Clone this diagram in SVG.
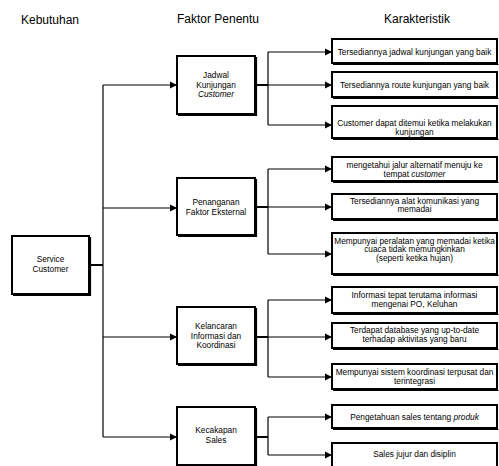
<svg xmlns="http://www.w3.org/2000/svg" width="499" height="466" viewBox="0 0 499 466">
<style>
  .hdr { font-family: "Liberation Sans", Arial, sans-serif; font-size: 12px; fill: #000; text-anchor: middle; }
  .t { font-family: "Liberation Sans", Arial, sans-serif; font-size: 8.3px; fill: #000; text-anchor: middle; }
  .box { fill: #fff; stroke: #000; stroke-width: 2; }
  .sh { fill: none; stroke: #000; stroke-width: 1.2; }
  .c { fill: none; stroke: #000; stroke-width: 1.2; }
  .ct { fill: none; stroke: #000; stroke-width: 2; }
  .i { font-style: italic; }
</style>
<defs>
  <marker id="ah" markerUnits="userSpaceOnUse" markerWidth="8" markerHeight="8" refX="7" refY="4" orient="auto">
    <path d="M0,0.5 L7,4 L0,7.5 Z" fill="#000"/>
  </marker>
</defs>
<rect width="499" height="466" fill="#fff"/>

<g id="headers">
  <text class="hdr" x="50" y="24">Kebutuhan</text>
  <text class="hdr" x="218" y="23">Faktor Penentu</text>
  <text class="hdr" x="417" y="23">Karakteristik</text>
</g>

<g id="connectors">
  <path class="ct" d="M89,265 H103"/>
  <path class="c" d="M103,85 V437"/>
  <path class="c" d="M103,85 H177" marker-end="url(#ah)"/>
  <path class="c" d="M103,208 H177" marker-end="url(#ah)"/>
  <path class="c" d="M103,337 H177" marker-end="url(#ah)"/>
  <path class="c" d="M103,437 H177" marker-end="url(#ah)"/>
  <path class="ct" d="M255,85 H268"/>
  <path class="c" d="M268,52 V125"/>
  <path class="c" d="M268,52 H332" marker-end="url(#ah)"/>
  <path class="c" d="M268,85 H332" marker-end="url(#ah)"/>
  <path class="c" d="M268,125 H332" marker-end="url(#ah)"/>
  <path class="ct" d="M255,207 H268"/>
  <path class="c" d="M268,169 V254"/>
  <path class="c" d="M268,169 H332" marker-end="url(#ah)"/>
  <path class="c" d="M268,207 H332" marker-end="url(#ah)"/>
  <path class="c" d="M268,254 H332" marker-end="url(#ah)"/>
  <path class="ct" d="M255,337 H268"/>
  <path class="c" d="M268,300 V377"/>
  <path class="c" d="M268,300 H332" marker-end="url(#ah)"/>
  <path class="c" d="M268,337 H332" marker-end="url(#ah)"/>
  <path class="c" d="M268,377 H332" marker-end="url(#ah)"/>
  <path class="ct" d="M255,437 H268"/>
  <path class="c" d="M268,417 V455"/>
  <path class="c" d="M268,417 H332" marker-end="url(#ah)"/>
  <path class="c" d="M268,455 H332" marker-end="url(#ah)"/>
</g>

<g id="service">
  <rect class="box" x="12" y="236" width="77" height="58"/>
  <path class="sh" d="M13,295.5 H90.5 V237"/>
  <text class="t" x="50.5" y="262">Service</text>
  <text class="t" x="50.5" y="271.5">Customer</text>
</g>

<g id="jadwal">
  <rect class="box" x="177" y="56" width="78" height="58"/>
  <path class="sh" d="M178,115.5 H256.5 V57"/>
  <text class="t" x="216" y="78">Jadwal</text>
  <text class="t" x="216" y="87.5">Kunjungan</text>
  <text class="t i" x="216" y="97">Customer</text>
</g>

<g id="penanganan">
  <rect class="box" x="177" y="178" width="78" height="57"/>
  <path class="sh" d="M178,236.5 H256.5 V179"/>
  <text class="t" x="216" y="205">Penanganan</text>
  <text class="t" x="216" y="214.5">Faktor Eksternal</text>
</g>

<g id="kelancaran">
  <rect class="box" x="177" y="307" width="78" height="57"/>
  <path class="sh" d="M178,365.5 H256.5 V308"/>
  <text class="t" x="216" y="329">Kelancaran</text>
  <text class="t" x="216" y="338.5">Informasi dan</text>
  <text class="t" x="216" y="348">Koordinasi</text>
</g>

<g id="kecakapan">
  <rect class="box" x="177" y="407" width="78" height="58"/>
  <path class="sh" d="M178,466.5 H256.5 V408"/>
  <text class="t" x="216" y="433">Kecakapan</text>
  <text class="t" x="216" y="442.5">Sales</text>
</g>

<g id="k1">
  <rect class="box" x="332" y="39" width="165" height="24"/>
  <path class="sh" d="M333,64.5 H498.5"/>
  <text class="t" x="414.5" y="54.5">Tersediannya jadwal kunjungan yang baik</text>
</g>
<g id="k2">
  <rect class="box" x="332" y="72" width="165" height="25"/>
  <path class="sh" d="M333,98.5 H498.5"/>
  <text class="t" x="414.5" y="88">Tersediannya route kunjungan yang baik</text>
</g>
<g id="k3">
  <rect class="box" x="332" y="106" width="165" height="32"/>
  <path class="sh" d="M333,139.5 H498.5"/>
  <text class="t" x="414.5" y="126">Customer dapat ditemui ketika melakukan</text>
  <text class="t" x="414.5" y="134.5">kunjungan</text>
</g>
<g id="k4">
  <rect class="box" x="332" y="157" width="165" height="24"/>
  <path class="sh" d="M333,182.5 H498.5"/>
  <text class="t" x="414.5" y="167.5">mengetahui jalur alternatif menuju ke</text>
  <text class="t" x="414.5" y="176.5">tempat <tspan class="i">customer</tspan></text>
</g>
<g id="k5">
  <rect class="box" x="332" y="194" width="165" height="25"/>
  <path class="sh" d="M333,220.5 H498.5"/>
  <text class="t" x="414.5" y="203.5">Tersediannya alat komunikasi yang</text>
  <text class="t" x="414.5" y="212">memadai</text>
</g>
<g id="k6">
  <rect class="box" x="332" y="233" width="165" height="41"/>
  <path class="sh" d="M333,275.5 H498.5"/>
  <text class="t" x="414.5" y="243.5">Mempunyai peralatan yang memadai ketika</text>
  <text class="t" x="414.5" y="252">cuaca tidak memungkinkan</text>
  <text class="t" x="414.5" y="260.5">(seperti ketika hujan)</text>
</g>
<g id="k7">
  <rect class="box" x="332" y="287" width="165" height="26"/>
  <path class="sh" d="M333,314.5 H498.5"/>
  <text class="t" x="414.5" y="298">Informasi tepat terutama informasi</text>
  <text class="t" x="414.5" y="307">mengenai PO, Keluhan</text>
</g>
<g id="k8">
  <rect class="box" x="332" y="323" width="165" height="25"/>
  <path class="sh" d="M333,349.5 H498.5"/>
  <text class="t" x="414.5" y="333">Terdapat database yang up-to-date</text>
  <text class="t" x="414.5" y="342">terhadap aktivitas yang baru</text>
</g>
<g id="k9">
  <rect class="box" x="332" y="364" width="165" height="25"/>
  <path class="sh" d="M333,390.5 H498.5"/>
  <text class="t" x="414.5" y="375">Mempunyai sistem koordinasi terpusat dan</text>
  <text class="t" x="414.5" y="384">terintegrasi</text>
</g>
<g id="k10">
  <rect class="box" x="332" y="405" width="165" height="23"/>
  <path class="sh" d="M333,429.5 H498.5"/>
  <text class="t" x="414.5" y="420">Pengetahuan sales tentang <tspan class="i">produk</tspan></text>
</g>
<g id="k11">
  <rect class="box" x="332" y="443" width="165" height="25"/>
  <text class="t" x="414.5" y="457">Sales jujur dan disiplin</text>
</g>
</svg>
